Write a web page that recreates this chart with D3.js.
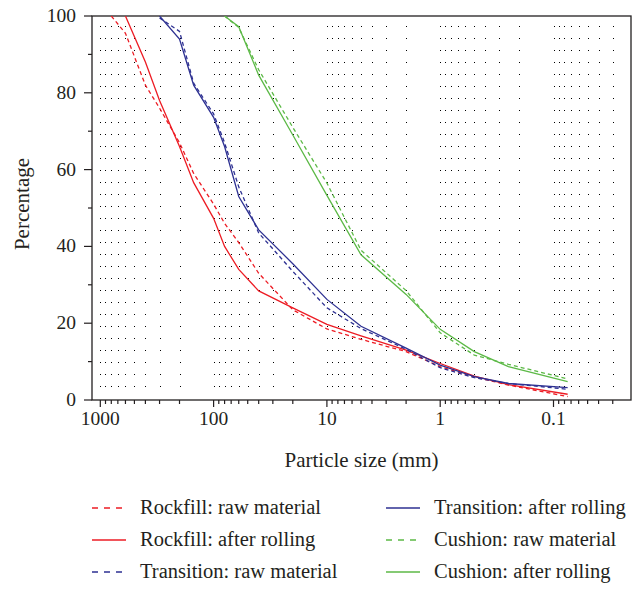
<!DOCTYPE html>
<html>
<head>
<meta charset="utf-8">
<script src="https://cdn.jsdelivr.net/npm/d3@7"></script>
<style>
  html, body { margin: 0; padding: 0; background: #fff; }
  svg { display: block; font-family: "Liberation Serif", "DejaVu Serif", serif; }
</style>
</head>
<body>
<svg id="chart" width="632" height="590"></svg>
<script>
// Sieve sizes (mm) and percentage passing for each material
const rockfillRawSizes = [800, 600, 400, 300, 200, 150, 100, 80, 60, 40, 20, 10, 5, 2, 1, 0.5, 0.25, 0.075];
const rockfillRaw      = [100, 95.5, 82, 76, 67, 59, 51, 46, 41, 33, 23.5, 18.5, 15.8, 12.6, 8.7, 6, 3.9, 0.9];

const rockfillRolledSizes = [600, 400, 300, 200, 150, 100, 80, 60, 40, 20, 10, 5, 2, 1, 0.5, 0.25, 0.075];
const rockfillRolled      = [100, 88, 78, 66, 56.6, 47.3, 40, 34, 28.4, 24, 19.7, 16.7, 13, 9.5, 6.2, 4, 1.5];

const transitionSizes  = [300, 200, 150, 100, 80, 60, 40, 20, 10, 5, 2, 1, 0.5, 0.25, 0.075];
const transitionRaw    = [99.5, 96, 82.5, 74.5, 67, 55.5, 43.5, 33.5, 24, 18.6, 13.2, 8.4, 5.8, 4.3, 2.8];
const transitionRolled = [100, 94, 82, 73.6, 66, 53, 44.3, 35.5, 26.2, 19.2, 13.5, 9.1, 6.1, 4.3, 3.2];

const cushionSizes  = [80, 60, 40, 20, 10, 5, 2, 1, 0.5, 0.25, 0.075];
const cushionRaw    = [100, 97, 86, 71, 56.5, 39, 28.5, 17.5, 11.7, 9.3, 5.5];
const cushionRolled = [100, 97.2, 84.6, 69, 53.3, 37.8, 27.5, 18.4, 12.6, 8.7, 4.8];

const xTickLabels = [1000, 100, 10, 1, 0.1];
const yTickLabels = [0, 20, 40, 60, 80, 100];

const RED = "#ed1c24", BLUE = "#2e3192", GREEN = "#5cb946";
const INK = "#231f20";

const series = [
  { name: "Rockfill: raw material",    sizes: rockfillRawSizes,    values: rockfillRaw,      color: RED,   dashed: true },
  { name: "Rockfill: after rolling",   sizes: rockfillRolledSizes, values: rockfillRolled,   color: RED,   dashed: false },
  { name: "Transition: raw material",  sizes: transitionSizes,     values: transitionRaw,    color: BLUE,  dashed: true },
  { name: "Transition: after rolling", sizes: transitionSizes,     values: transitionRolled, color: BLUE,  dashed: false },
  { name: "Cushion: raw material",     sizes: cushionSizes,        values: cushionRaw,       color: GREEN, dashed: true },
  { name: "Cushion: after rolling",    sizes: cushionSizes,        values: cushionRolled,    color: GREEN, dashed: false }
];

const svg = d3.select("#chart");
const plot = { left: 92, right: 631, top: 16, bottom: 400 };

// Reversed logarithmic size axis (coarse on the left)
const x = d3.scaleLog().domain([1184, 0.0207]).range([plot.left, plot.right]);
const y = d3.scaleLinear().domain([0, 100]).range([plot.bottom, plot.top]);

// All 1-9 × 10^k positions inside the domain
const minorVals = [];
for (let e = -2; e <= 3; e++) {
  for (let m = 1; m <= 9; m++) {
    const v = m * Math.pow(10, e);
    if (v <= 1184 && v >= 0.0207) minorVals.push(v);
  }
}

// Dotted vertical guides at every tick position
svg.append("g")
  .selectAll("line")
  .data(minorVals)
  .join("line")
  .attr("x1", d => Math.round(x(d)) + 0.5)
  .attr("x2", d => Math.round(x(d)) + 0.5)
  .attr("y1", plot.bottom - 13)
  .attr("y2", plot.top + 9)
  .attr("stroke", "#000")
  .attr("stroke-width", 1)
  .attr("stroke-dasharray", "1 11");

// Frame
svg.append("rect")
  .attr("x", plot.left).attr("y", plot.top)
  .attr("width", plot.right - plot.left).attr("height", plot.bottom - plot.top)
  .attr("fill", "none").attr("stroke", INK).attr("stroke-width", 1.3);

// X axis
const xAxis = svg.append("g").attr("transform", `translate(0,${plot.bottom})`);
xAxis.selectAll("line.minor")
  .data(minorVals)
  .join("line")
  .attr("class", "minor")
  .attr("x1", d => x(d)).attr("x2", d => x(d))
  .attr("y1", 0).attr("y2", d => xTickLabels.includes(d) ? 7 : 4)
  .attr("stroke", INK).attr("stroke-width", 1.2);
xAxis.selectAll("text")
  .data(xTickLabels)
  .join("text")
  .attr("x", d => x(d)).attr("y", 25)
  .attr("text-anchor", "middle")
  .attr("fill", INK)
  .attr("font-size", 19.5)
  .text(d => d3.format("~g")(d));

// Y axis
const yAxis = svg.append("g").attr("transform", `translate(${plot.left},0)`);
const yMinor = d3.range(10, 100, 20);
yAxis.selectAll("line.major")
  .data(yTickLabels)
  .join("line")
  .attr("class", "major")
  .attr("x1", -8).attr("x2", 0)
  .attr("y1", d => y(d)).attr("y2", d => y(d))
  .attr("stroke", INK).attr("stroke-width", 1.2);
yAxis.selectAll("line.minor")
  .data(yMinor)
  .join("line")
  .attr("class", "minor")
  .attr("x1", -4).attr("x2", 0)
  .attr("y1", d => y(d)).attr("y2", d => y(d))
  .attr("stroke", INK).attr("stroke-width", 1.2);
yAxis.selectAll("text")
  .data(yTickLabels)
  .join("text")
  .attr("x", -16).attr("y", d => y(d) + 6)
  .attr("text-anchor", "end")
  .attr("fill", INK)
  .attr("font-size", 19.5)
  .text(d => d);

// Axis titles
svg.append("text")
  .attr("x", (plot.left + plot.right) / 2).attr("y", 467)
  .attr("text-anchor", "middle").attr("fill", INK).attr("font-size", 21)
  .text("Particle size (mm)");
svg.append("text")
  .attr("transform", `translate(29,${(plot.top + plot.bottom) / 2 - 4}) rotate(-90)`)
  .attr("text-anchor", "middle").attr("fill", INK).attr("font-size", 21)
  .text("Percentage");

// Grading curves
const line = d3.line().x(d => x(d[0])).y(d => y(d[1]));
svg.append("clipPath").attr("id", "plotclip")
  .append("rect").attr("x", plot.left).attr("y", plot.top)
  .attr("width", plot.right - plot.left).attr("height", plot.bottom - plot.top);
svg.append("g").attr("clip-path", "url(#plotclip)")
  .selectAll("path")
  .data(series)
  .join("path")
  .attr("d", s => line(s.sizes.map((v, i) => [v, s.values[i]])))
  .attr("fill", "none")
  .attr("stroke", s => s.color)
  .attr("stroke-width", 1.3)
  .attr("stroke-dasharray", s => s.dashed ? "4 3" : null);

// Legend in two columns
const legend = svg.append("g");
const colX = [92, 386], rowY = [508, 540, 572];
series.forEach((s, i) => {
  const cx = colX[Math.floor(i / 3)], cy = rowY[i % 3];
  legend.append("line")
    .attr("x1", cx).attr("x2", cx + 34)
    .attr("y1", cy).attr("y2", cy)
    .attr("stroke", s.color).attr("stroke-width", 1.3)
    .attr("stroke-dasharray", s.dashed ? "6 6" : null);
  legend.append("text")
    .attr("x", cx + 48).attr("y", cy + 6)
    .attr("fill", INK).attr("font-size", 20.5)
    .text(s.name);
});
</script>
</body>
</html>
